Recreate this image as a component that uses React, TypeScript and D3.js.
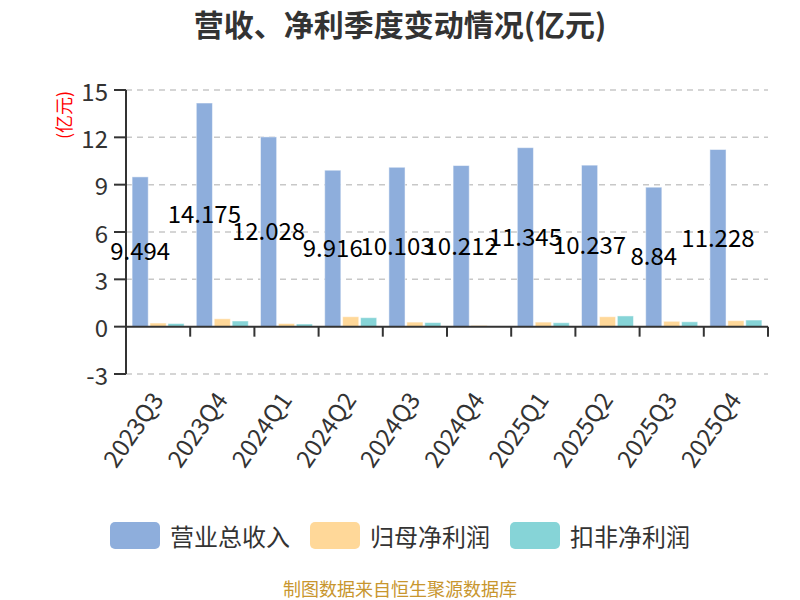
import React from "react";
import * as d3 from "d3";

const categories = ["2023Q3", "2023Q4", "2024Q1", "2024Q2", "2024Q3", "2024Q4", "2025Q1", "2025Q2", "2025Q3", "2025Q4"];
const revenue = [9.494, 14.175, 12.028, 9.916, 10.103, 10.212, 11.345, 10.237, 8.84, 11.228];
const netProfit = [0.23, 0.5, 0.2, 0.63, 0.29, 0.08, 0.29, 0.63, 0.34, 0.38];
const deductedProfit = [0.2, 0.36, 0.17, 0.57, 0.26, 0.0, 0.25, 0.68, 0.31, 0.42];
const seriesNames = ["营业总收入", "归母净利润", "扣非净利润"];
const seriesColors = ["#8eaedc", "#ffd899", "#86d4d7"];
const yTicks = [-3, 0, 3, 6, 9, 12, 15];

const FONT = "'Noto Sans CJK SC', 'Noto Sans', sans-serif";

export default function App() {
  const width = 800;
  const height = 600;
  const left = 126;
  const right = 768;
  const x0 = d3.scaleBand<string>().domain(categories).range([left, right]).padding(0);
  const x1 = d3
    .scaleBand<string>()
    .domain(seriesNames)
    .range([0, x0.bandwidth()])
    .paddingInner(0.1)
    .paddingOuter(0.34);
  const y = d3.scaleLinear().domain([-3, 15]).range([374, 90]);
  const allSeries = [revenue, netProfit, deductedProfit];

  return (
    <svg width={width} height={height} style={{ display: "block", position: "absolute", left: 0, top: 0 }} fontFamily={FONT}>
      <rect width={width} height={height} fill="#fff" />
      <text x={400} y={23} textAnchor="middle" dominantBaseline="central" fontSize={30} fontWeight="bold" fill="#333">
        营收、净利季度变动情况(亿元)
      </text>

      {/* grid */}
      {yTicks.filter((t) => t !== 0).map((t) => (
        <line key={"g" + t} x1={left} x2={right} y1={y(t)} y2={y(t)} stroke="#c8c8c8" strokeWidth={1.5} strokeDasharray="6,5" />
      ))}

      {/* bars */}
      {allSeries.map((vals, si) =>
        vals.map((v, i) => {
          const bx = (x0(categories[i]) as number) + (x1(seriesNames[si]) as number);
          const y0 = y(0);
          const yv = y(v);
          return (
            <rect
              key={`b${si}-${i}`}
              x={bx}
              y={Math.min(y0, yv)}
              width={x1.bandwidth()}
              height={Math.abs(y0 - yv)}
              fill={seriesColors[si]}
              stroke="#ffffff"
              strokeOpacity={0.5}
              strokeWidth={1}
            />
          );
        })
      )}

      {/* y axis */}
      <line x1={left} x2={left} y1={y(15)} y2={y(-3)} stroke="#333" strokeWidth={2} />
      {yTicks.map((t) => (
        <g key={"yt" + t}>
          <line x1={left - 12} x2={left} y1={y(t)} y2={y(t)} stroke="#333" strokeWidth={2} />
          <text x={left - 18} y={y(t)} textAnchor="end" dominantBaseline="central" fontSize={24} fill="#333">
            {t}
          </text>
        </g>
      ))}
      <text
        transform={`translate(63,115) rotate(-90)`}
        textAnchor="middle"
        dominantBaseline="central"
        fontSize={18}
        fill="#ff0000"
      >
        (亿元)
      </text>

      {/* x axis */}
      <line x1={left} x2={right} y1={y(0)} y2={y(0)} stroke="#333" strokeWidth={2} />
      {categories.concat([""]).map((c, i) => {
        const tx = left + i * x0.step();
        return <line key={"xt" + i} x1={tx} x2={tx} y1={y(0)} y2={y(0) + 10} stroke="#333" strokeWidth={2} />;
      })}
      {categories.map((c) => {
        const cx = (x0(c) as number) + x0.bandwidth() / 2;
        return (
          <text
            key={"xl" + c}
            transform={`translate(${cx - 2},394) rotate(-55)`}
            textAnchor="end"
            dominantBaseline="central"
            fontSize={24}
            fill="#333"
          >
            {c}
          </text>
        );
      })}

      {/* value labels */}
      {revenue.map((v, i) => {
        const bx = (x0(categories[i]) as number) + (x1(seriesNames[0]) as number) + x1.bandwidth() / 2;
        return (
          <text
            key={"vl" + i}
            x={bx}
            y={(y(v) + y(0)) / 2 - 2}
            textAnchor="middle"
            dominantBaseline="central"
            fontSize={24}
            fill="#000"
          >
            {v}
          </text>
        );
      })}

      {/* legend */}
      {seriesNames.map((n, i) => {
        const lx = [110, 310, 510][i];
        return (
          <g key={"lg" + i}>
            <rect x={lx} y={522} width={50} height={27} rx={5} fill={seriesColors[i]} />
            <text x={lx + 60} y={535} dominantBaseline="central" fontSize={24} fill="#333">
              {n}
            </text>
          </g>
        );
      })}

      <text x={400} y={588} textAnchor="middle" dominantBaseline="central" fontSize={18} fill="#c8962e">
        制图数据来自恒生聚源数据库
      </text>
    </svg>
  );
}
